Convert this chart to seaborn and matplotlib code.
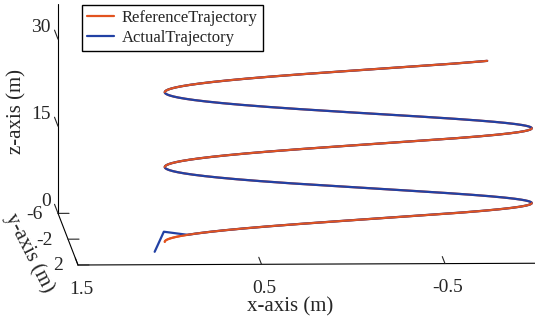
import numpy as np
import matplotlib
matplotlib.use("Agg")
import matplotlib.pyplot as plt
import seaborn as sns
from mpl_toolkits.mplot3d import proj3d

sns.set_style("white")
plt.rcParams['font.family'] = ['Liberation Serif', 'DejaVu Serif']

# reference helix
radius_x = 1.0
radius_y = 0.3
z_start = 1.7
z_per_rad = 2.05
t_end = 15.0

# actual trajectory: start-up transient, then it sits on the reference
start_x = [1.055, 1.005]
start_y = [0.0, 0.0]
start_z = [0.0, 3.45]
t_join = 0.5

x_ticks = [1.5, 0.5, -0.5]
y_ticks = [-6, -2, 2]
z_ticks = [0, 15, 30]
x_lim = (-1.0, 1.5)
y_lim = (-6, 2)
z_lim = (0, 36)

ref_color = '#E2531F'
act_color = '#2241A4'

t = np.linspace(0, t_end, 800)
ref_x = radius_x * np.cos(t)
ref_y = -radius_y * np.sin(t)
ref_z = z_start + z_per_rad * t
# back half of the helix, where the reference shows through the actual line
ref_z_back = np.where(np.sin(t) >= 0, ref_z, np.nan)

keep = t >= t_join
act_x = np.concatenate([start_x, ref_x[keep]])
act_y = np.concatenate([start_y, ref_y[keep]])
act_z = np.concatenate([start_z, ref_z[keep]])

W, H = 535, 322
fig = plt.figure(figsize=(W / 100, H / 100), dpi=100)
ax = fig.add_axes([0, 0, 1, 1], projection='3d', proj_type='ortho')
ax.computed_zorder = False
ax.view_init(elev=5.7, azim=87.8)
ax.set_box_aspect((459, 520, 210))

ax.plot(ref_x, ref_y, ref_z, color=ref_color, lw=1.6, label='ReferenceTrajectory', zorder=2)
ax.plot(act_x, act_y, act_z, color=act_color, lw=1.6, label='ActualTrajectory', zorder=3)
ax.plot(ref_x, ref_y, ref_z_back, color=ref_color, lw=1.4, zorder=4)

try:
    ax.set_xlim(*x_lim, view_margin=0)
    ax.set_ylim(*y_lim, view_margin=0)
    ax.set_zlim(*z_lim, view_margin=0)
except TypeError:
    ax.set_xlim(*x_lim)
    ax.set_ylim(*y_lim)
    ax.set_zlim(*z_lim)

ax.set_xticks(x_ticks)
ax.set_yticks(y_ticks)
ax.set_zticks(z_ticks)
ax.set_xticklabels([''] * 3)
ax.set_yticklabels([''] * 3)
ax.set_zticklabels([''] * 3)
ax.grid(False)
for a in (ax.xaxis, ax.yaxis, ax.zaxis):
    a.set_pane_color((1, 1, 1, 0))
    a.pane.set_edgecolor((1, 1, 1, 0))
    a.line.set_color('black')
    a.line.set_linewidth(0.8)
    a._axinfo['tick']['inward_factor'] = 0.0
ax.xaxis._axinfo['tick']['outward_factor'] = 1.7
ax.yaxis._axinfo['tick']['outward_factor'] = 0.3
ax.zaxis._axinfo['tick']['outward_factor'] = 2.2
# z ticks point along y, like the matlab figure
ax.zaxis._get_tickdir = lambda position: 1

# place the 3d box so the front-left corner and the -0.5 tick land where they are in the picture
fig.canvas.draw()


def to_px(x, y, z):
    xs, ys, _ = proj3d.proj_transform(x, y, z, ax.get_proj())
    return ax.transData.transform((xs, ys))


pA = to_px(1.5, 2, 0)
pB = to_px(-0.5, 2, 0)
tA = np.array([78.0, H - 265.0])
tB = np.array([445.0, H - 265.0])
bb = ax.get_position().transformed(fig.transFigure)
c0 = np.array([(bb.x0 + bb.x1) / 2, (bb.y0 + bb.y1) / 2])
s = np.linalg.norm(tB - tA) / np.linalg.norm(pB - pA)
side = bb.width * s
c1 = tA - s * (pA - c0)
ax.set_position([(c1[0] - side / 2) / W, (c1[1] - side / 2) / H, side / W, side / H])
fig.canvas.draw()

tick_fs = 14
for v in x_ticks:
    px, py = to_px(v, y_lim[1], z_lim[0])
    fig.text((px + 3) / W, (py - 24) / H, f'{v:g}', fontsize=tick_fs, ha='center', va='center')
for v in y_ticks:
    px, py = to_px(x_lim[1], v, z_lim[0])
    fig.text((px - 15) / W, (py - 1) / H, f'{v:g}', fontsize=tick_fs, ha='right', va='center')
for v in z_ticks:
    px, py = to_px(x_lim[1], y_lim[0], v)
    fig.text((px - 7) / W, (py + 12) / H, f'{v:g}', fontsize=tick_fs, ha='right', va='center')

fig.text(290 / W, 1 - 307 / H, 'x-axis (m)', fontsize=15, ha='center', va='center')
fig.text(17 / W, 1 - 112 / H, 'z-axis (m)', fontsize=15, ha='center', va='center', rotation=90)
fig.text(29 / W, 1 - 253 / H, 'y-axis (m)', fontsize=15, ha='center', va='center',
         rotation=-63, rotation_mode='anchor')

fig.legend(loc='upper left', bbox_to_anchor=(82 / W, 1 - 5 / H), borderaxespad=0,
           fontsize=12, fancybox=False, framealpha=1, edgecolor='black',
           handlelength=1.6, handletextpad=0.5, labelspacing=0.25, borderpad=0.3)

fig.savefig('out.png', dpi=100)
